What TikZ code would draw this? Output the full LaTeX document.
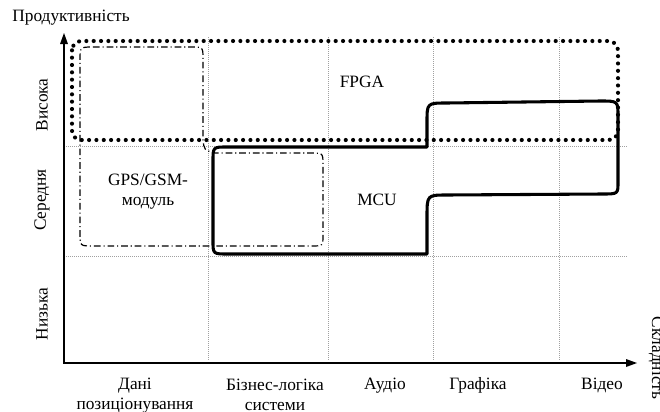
\documentclass[tikz,border=0pt]{standalone}
\usepackage{fontspec}
\setmainfont{Liberation Serif}
\usepackage{tikz}

\begin{document}
\begin{tikzpicture}[x=0.75pt,y=0.75pt,yscale=-1,xscale=1,
	grid line/.style={color={rgb, 255:red, 160; green, 160; blue, 160 }, line width=0.5, dash pattern={on 0.75pt off 0.75pt}},
	axis line/.style={line width=1.5, shorten <=3pt, shorten >=3pt},
	fpga line/.style={line width=3.1, dash pattern={on 0pt off 5.5pt}, line cap=round, rounded corners=7},
	gps line/.style={line width=0.9, dash pattern={on 5pt off 2.2pt on 0.8pt off 2.2pt}},
	mcu line/.style={line width=2.3, line join=round},
	txt/.style={font=\fontsize{13}{15}\selectfont, inner sep=0.75pt, align=center}]
		\useasboundingbox (0,0) rectangle (660,411);

		%Grid Lines
		\foreach \gx in {208,328,433,559} { \draw [grid line] (\gx,37) -- (\gx,361) ; }
		\foreach \gy in {146,256} { \draw [grid line] (64,\gy) -- (628,\gy) ; }

		%Axes
		\coordinate (ytip) at (64,33);
		\coordinate (origin) at (64,363);
		\coordinate (xtip) at (637,363);
		\draw [axis line] (ytip) -- (origin) -- (xtip) ;
		\draw [shift={(ytip)}, rotate = 90] [fill={rgb, 255:red, 0; green, 0; blue, 0 }  ][line width=0.08]  [draw opacity=0] (11,-4) -- (0,0) -- (11,4) -- cycle    ;
		\draw [shift={(xtip)}, rotate = 180] [fill={rgb, 255:red, 0; green, 0; blue, 0 }  ][line width=0.08]  [draw opacity=0] (11,-4) -- (0,0) -- (11,4) -- cycle    ;

		%Shape: FPGA
		\draw [fpga line] (72,41) rectangle (618,140) ;
		%Shape: GPS/GSM
		\draw [gps line] (93,47) -- (191,47) .. controls (203,47) .. (203,59) -- (203,139) .. controls (204,150) .. (215,153) -- (311,153) .. controls (323,153) .. (323,165) -- (323,235) .. controls (323,246) .. (311,246) -- (93,246) .. controls (80,246) .. (80,233) -- (80,60) .. controls (80,47) .. (93,47) -- cycle ;
		%Shape: MCU
		\draw [mcu line] (427,254) -- (228,254) .. controls (213,254) .. (213,241) -- (213,161) .. controls (213,147) .. (227,147) -- (427,147) -- (427,122) .. controls (427,103) .. (447,103) -- (600,101) .. controls (618,101) .. (618,116) -- (618,182) .. controls (618,194) .. (602,194) -- (447,195) .. controls (427,195) .. (427,217) -- cycle ;

		% Text Node
		\draw (71,18) node (perf) [txt] {Продуктивність};
		% Text Node
		\draw (42,105) node (high) [txt, rotate=90] {Висока};
		% Text Node
		\draw (42,200) node (middle) [txt, rotate=90] {Середня};
		% Text Node
		\draw (42,314) node (low) [txt, rotate=90] {Низька};
		% Text Node
		\draw (652,358) node (cmplx) [txt, rotate=-90, anchor=base] {Складність};
		% Text Node
		\draw (362,82) node (fpga) [txt] {FPGA};
		% Text Node
		\draw (377,200) node (mcu) [txt] {MCU};
		% Text Node
		\draw (148,192) node (gps) [txt] {GPS/GSM-\\модуль};
		% Text Node
		\draw (135,396) node (posdata) [txt] {Дані\\позиціонування};
		% Text Node
		\draw (275,395) node (bizlogic) [txt] {Бізнес-логіка\\системи};
		% Text Node
		\draw (385,389) node (audio) [txt, anchor=base] {Аудіо};
		% Text Node
		\draw (478,389) node (graphics) [txt, anchor=base] {Графіка};
		% Text Node
		\draw (602,389) node (video) [txt, anchor=base] {Відео};

\end{tikzpicture}
\end{document}
